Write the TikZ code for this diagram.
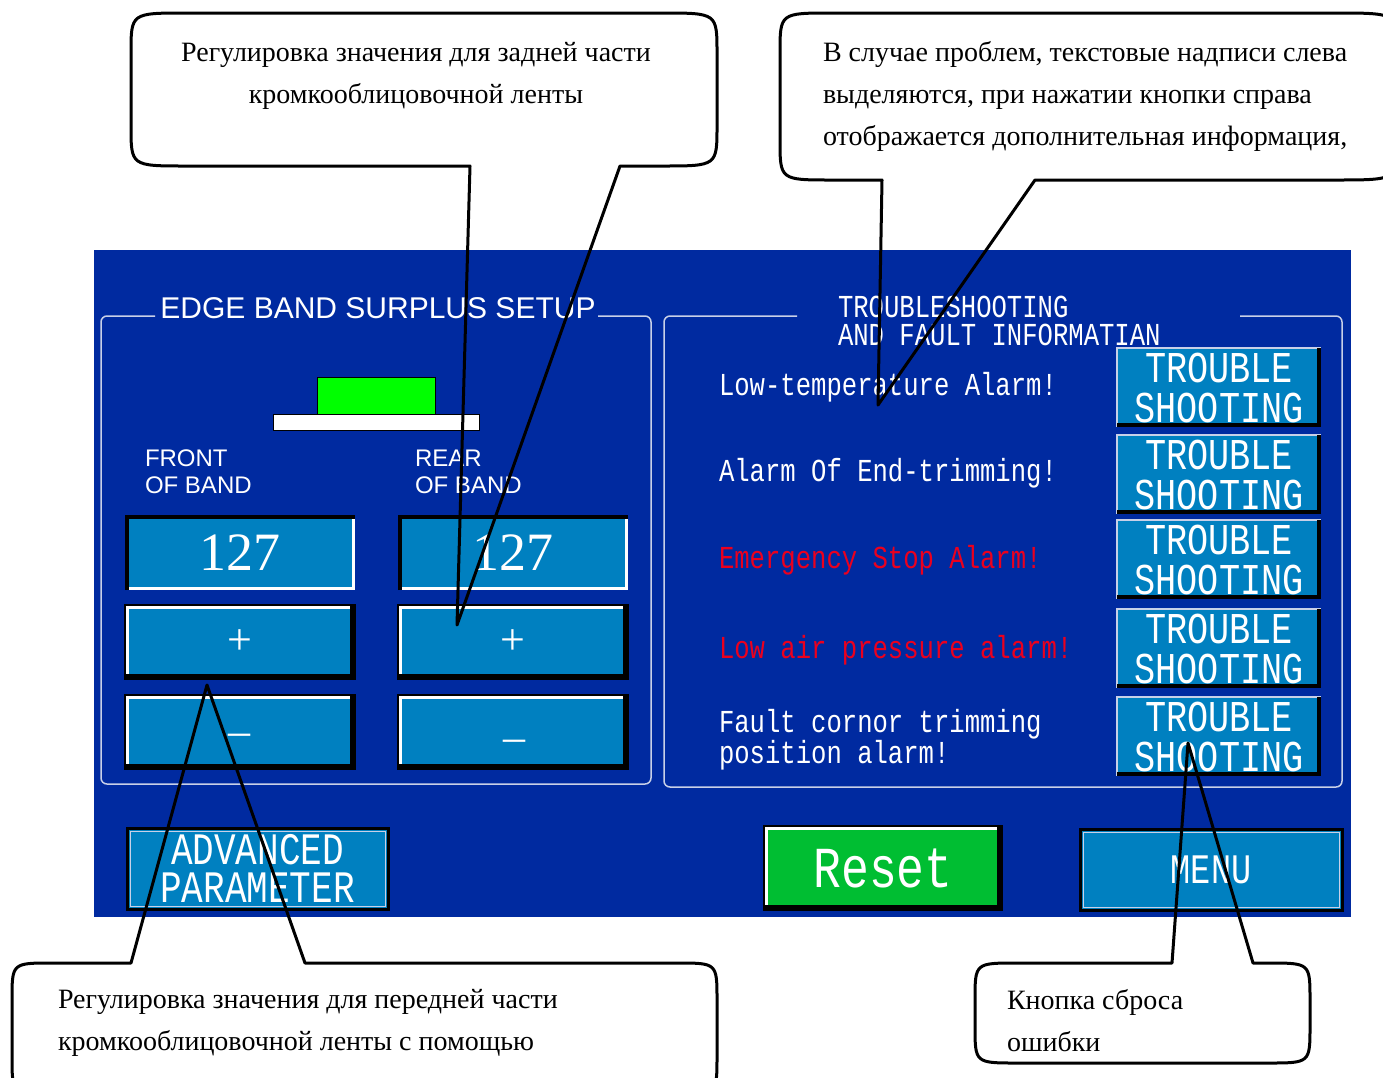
\documentclass[tikz,border=0pt]{standalone}
\usepackage{fontspec}
\setmainfont{Liberation Serif}
\newfontfamily\plcfont[FakeStretch=0.8]{Liberation Mono}
\newfontfamily\labelfont{Liberation Sans}

\definecolor{panelblue}{RGB}{0,42,160}
\definecolor{keyblue}{RGB}{0,128,192}
\definecolor{resetgreen}{RGB}{0,190,50}
\definecolor{framegray}{RGB}{200,208,232}
\definecolor{alarmred}{RGB}{235,0,30}

% edges of a raised key and of a sunken display
\newcommand{\raisedkey}[1]{%
  \draw[black,line width=1.5pt] (#1.south west) rectangle (#1.north east);
  \draw[white,line width=3pt] ([shift={(2,-2)}]#1.south west) -- ([shift={(2,2)}]#1.north west) -- ([shift={(-2,2)}]#1.north east);
  \draw[black,line width=5pt] ([shift={(-2.5,0)}]#1.north east) -- ([shift={(-2.5,-2.5)}]#1.south east) -- ([shift={(0,-2.5)}]#1.south west);
}
\newcommand{\sunkenkey}[1]{%
  \draw[white,line width=3pt] ([shift={(0,-1.5)}]#1.south west) -- ([shift={(-1.5,-1.5)}]#1.south east) -- ([shift={(-1.5,0)}]#1.north east);
  \draw[black,line width=4pt] ([shift={(2,0)}]#1.south west) -- ([shift={(2,2)}]#1.north west) -- ([shift={(0,2)}]#1.north east);
}

\begin{document}
\begin{tikzpicture}[x=1pt, y=-1pt,
    every node/.style={inner sep=0pt, outer sep=0pt},
    display/.style={fill=keyblue, text=white, minimum width=230pt, minimum height=75pt, font=\fontsize{54}{54}\selectfont},
    stepkey/.style={fill=keyblue, text=white, minimum width=230pt, minimum height=74pt, font=\fontsize{44}{44}\selectfont},
    troublekey/.style={fill=keyblue, text=white, minimum width=204pt, minimum height=79pt, align=center, font=\plcfont\fontsize{44}{40}\selectfont},
    alarm/.style={anchor=base west, text=white, font=\plcfont\fontsize{32}{28}\selectfont},
    bandlabel/.style={anchor=north west, text=white, align=left, font=\labelfont\fontsize{24}{27}\selectfont},
    groupframe/.style={draw=framegray, line width=1.5pt, rounded corners=6pt},
    callout/.style={draw=black, line width=3pt, line join=round},
    calltext/.style={font=\fontsize{28}{42}\selectfont},
  ]
  \useasboundingbox (0,0) rectangle (1383,1077);
  \clip (0,0) rectangle (1383,1077);

  % operator panel
  \fill[panelblue] (94,250) rectangle (1351,917);

  % left group: edge band surplus
  \draw[groupframe] (155,316) -- (101,316) -- (101,784) -- (651,784) -- (651,316) -- (598,316);
  \node[text=white, font=\labelfont\fontsize{30}{30}\selectfont] (surplustitle) at (378,308) {EDGE BAND SURPLUS SETUP};
  \draw[black, fill=green] (317,377) rectangle (435,414);
  \draw[black, fill=white] (273,414) rectangle (479,430);
  \node[bandlabel] (frontlabel) at (145,450) {FRONT\\ OF BAND};
  \node[bandlabel] (rearlabel) at (415,450) {REAR\\OF BAND};

  \node[display] (frontval) at (240,552.5) {127};
  \node[display] (rearval) at (513,552.5) {127};
  \node[stepkey] (frontplus) at (240,642) {};
  \node[stepkey] (rearplus) at (513,642) {};
  \node[stepkey] (frontminus) at (240,732) {};
  \node[stepkey] (rearminus) at (513,732) {};
  \node[text=white, font=\fontsize{44}{44}\selectfont] (frontplustxt) at (frontplus) {+};
  \node[text=white, font=\fontsize{44}{44}\selectfont] (rearplustxt) at (rearplus) {+};
  \node[text=white, font=\fontsize{44}{44}\selectfont] (frontminustxt) at (239,740) {\textendash};
  \node[text=white, font=\fontsize{44}{44}\selectfont] (rearminustxt) at (514,746) {\textendash};
  \sunkenkey{frontval}
  \sunkenkey{rearval}
  \raisedkey{frontplus}
  \raisedkey{rearplus}
  \raisedkey{frontminus}
  \raisedkey{rearminus}

  % right group: troubleshooting
  \draw[groupframe] (797,316) -- (664,316) -- (664,787) -- (1342,787) -- (1342,316) -- (1240,316);
  \node[anchor=base west, text=white, align=left, font=\plcfont\fontsize{32}{28}\selectfont] (troubletitle) at (838,345) {TROUBLESHOOTING\\AND FAULT INFORMATIAN};
  \node[alarm] (alarma) at (719,395) {Low-temperature Alarm!};
  \node[alarm] (alarmb) at (719,481) {Alarm Of  End-trimming!};
  \node[alarm, text=alarmred] (alarmc) at (719,568) {Emergency Stop Alarm!};
  \node[alarm, text=alarmred] (alarmd) at (719,658) {Low air pressure alarm!};
  \node[alarm, align=left] (alarme) at (719,763) {Fault cornor trimming\\position alarm!};

  \node[troublekey] (troublea) at (1219,387.5) {TROUBLE\\SHOOTING};
  \node[troublekey] (troubleb) at (1219,474.5) {TROUBLE\\SHOOTING};
  \node[troublekey] (troublec) at (1219,559.5) {TROUBLE\\SHOOTING};
  \node[troublekey] (troubled) at (1219,648.5) {TROUBLE\\SHOOTING};
  \node[troublekey] (troublee) at (1219,736.5) {TROUBLE\\SHOOTING};
  \foreach \k in {troublea,troubleb,troublec,troubled,troublee}{
    \draw[framegray,line width=1.5pt] (\k.south west) -- (\k.north west) -- (\k.north east);
    \draw[black,line width=4pt] ([shift={(-2,0)}]\k.north east) -- ([shift={(-2,-2)}]\k.south east) -- ([shift={(0,-2)}]\k.south west);
  }

  % bottom keys
  \node[fill=keyblue, text=white, draw=black, line width=3pt, minimum width=261pt, minimum height=81pt, align=center, font=\plcfont\fontsize{45}{38}\selectfont] (advanced) at (257.5,868.5) {ADVANCED\\PARAMETER};
  \draw[framegray, line width=1pt] ([shift={(3,-3)}]advanced.south west) rectangle ([shift={(-3,3)}]advanced.north east);
  \node[fill=resetgreen, text=white, minimum width=238pt, minimum height=84pt, font=\plcfont\fontsize{58}{58}\selectfont] (reset) at (883,868) {Reset};
  \raisedkey{reset}
  \node[fill=keyblue, text=white, draw=black, line width=3pt, minimum width=262pt, minimum height=81pt, font=\plcfont\fontsize{42}{42}\selectfont] (menu) at (1211,869.5) {MENU};
  \draw[framegray, line width=1pt] ([shift={(3,-3)}]menu.south west) rectangle ([shift={(-3,3)}]menu.north east);

  % callouts
  \draw[callout] (470,166) -- (457,625) -- (620,166) -- (662,166) .. controls (717,166) .. (717,126) -- (717,53) .. controls (717,13) .. (662,13) -- (186,13) .. controls (131,13) .. (131,53) -- (131,126) .. controls (131,166) .. (186,166) -- cycle;
  \node[calltext, anchor=north, align=center] (reartext) at (416,42) {Регулировка значения для задней части\\кромкооблицовочной ленты};

  \draw[callout] (882,180) -- (878,405) -- (1035,180) -- (1335,180) .. controls (1398,180) .. (1398,140) -- (1398,53) .. controls (1398,13) .. (1335,13) -- (832,13) .. controls (780,13) .. (780,53) -- (780,140) .. controls (780,180) .. (832,180) -- cycle;
  \node[calltext, anchor=north west, align=left] (faulttext) at (823,41) {В случае проблем, текстовые надписи слева\\выделяются, при нажатии кнопки справа\\отображается дополнительная информация,};

  \draw[callout] (305,963) -- (207,685) -- (131,963) -- (52,963) .. controls (12,963) .. (12,1000) -- (12,1055) .. controls (12,1095) .. (52,1095) -- (677,1095) .. controls (717,1095) .. (717,1055) -- (717,1000) .. controls (717,963) .. (677,963) -- cycle;
  \node[calltext, anchor=north west, align=left] (fronttext) at (58,989) {Регулировка значения для передней части\\кромкооблицовочной ленты с помощью};

  \draw[callout] (1172,963) -- (1188,743) -- (1253,963) -- (1268,963) .. controls (1310,963) .. (1310,1000) -- (1310,1026) .. controls (1310,1063) .. (1268,1063) -- (1017,1063) .. controls (975,1063) .. (975,1026) -- (975,1000) .. controls (975,963) .. (1017,963) -- cycle;
  \node[calltext, anchor=north west, align=left] (resettext) at (1007,989) {Кнопка сброса\\ошибки};
\end{tikzpicture}
\end{document}
